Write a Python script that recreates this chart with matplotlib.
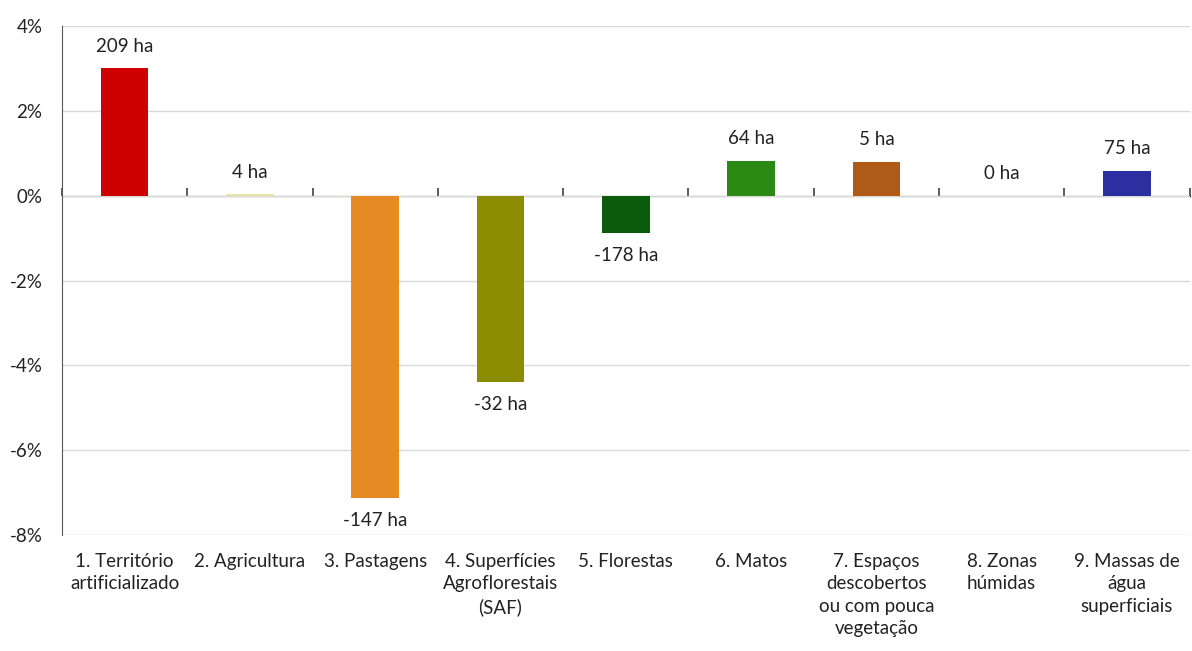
import matplotlib.pyplot as plt
import numpy as np

plt.rcParams['font.family'] = ['Lato', 'DejaVu Sans']

categories = ['1. Território\nartificializado', '2. Agricultura', '3. Pastagens',
              '4. Superfícies\nAgroflorestais\n(SAF)', '5. Florestas', '6. Matos',
              '7. Espaços\ndescobertos\nou com pouca\nvegetação', '8. Zonas\nhúmidas',
              '9. Massas de\nágua\nsuperficiais']
pct = [3.0, 0.03, -7.12, -4.39, -0.88, 0.82, 0.79, 0.0, 0.59]
ha_labels = ['209 ha', '4 ha', '-147 ha', '-32 ha', '-178 ha', '64 ha', '5 ha', '0 ha', '75 ha']
colors = ['#CF0000', '#E6E6A8', '#E88A24', '#8C8C00', '#0A5C0A',
          '#2A8A14', '#B05A17', '#FFFFFF', '#2B2FA0']

x = np.arange(len(categories))
ymin, ymax = -8, 4
fs = 13.5

fig = plt.figure(figsize=(11.92, 6.51), dpi=100)
ax = fig.add_axes([0.052, 0.178, 0.946, 0.782])

ax.bar(x, pct, width=0.38, color=colors, zorder=3)

for xi, v, lab in zip(x, pct, ha_labels):
    off = 16 if v >= 0 else -16
    ax.annotate(lab, (xi, v), xytext=(0, off), textcoords='offset points',
                ha='center', va='center', fontsize=fs, color='#222222')

ax.set_xlim(-0.5, len(categories) - 0.5)
ax.set_ylim(ymin, ymax)
ax.set_yticks(np.arange(ymin, ymax + 1, 2))
ax.set_yticklabels([f'{t}%' for t in range(ymin, ymax + 1, 2)])
ax.tick_params(axis='y', length=0, pad=14, labelsize=fs, labelcolor='#222222')

ax.set_xticks(x)
ax.set_xticklabels(categories, linespacing=1.38)
ax.tick_params(axis='x', length=0, pad=13, labelsize=fs, labelcolor='#222222')

ax.grid(axis='y', color='#D9D9D9', linewidth=1, zorder=0)
for s in ['top', 'right', 'bottom']:
    ax.spines[s].set_visible(False)
ax.spines['left'].set_color('#595959')

# zero line with category separators
zero_frac = (0 - ymin) / (ymax - ymin)
sec = ax.secondary_xaxis(zero_frac)
sec.set_xticks(np.arange(-0.5, len(categories), 1))
sec.tick_params(direction='out', length=6, width=1.2, color='#404040', labelbottom=False, labeltop=False)
sec.spines['bottom'].set_color('#404040')
sec.spines['bottom'].set_linewidth(1.2)

fig.savefig('out.png', dpi=100)
